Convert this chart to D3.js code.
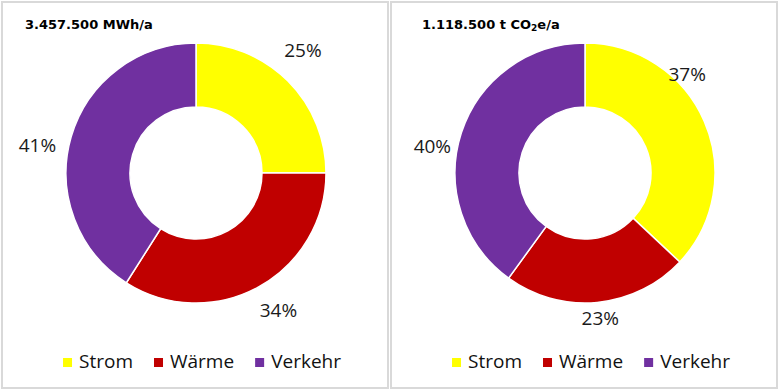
<!DOCTYPE html>
<html>
<head>
<meta charset="utf-8">
<script src="https://cdn.jsdelivr.net/npm/d3@7/dist/d3.min.js"></script>
<style>
  html, body { margin: 0; padding: 0; background: #fff; }
  svg { display: block; }
</style>
</head>
<body>
<svg id="chart" width="780" height="391"></svg>
<script>
// ---- data ----
const categories = ["Strom", "Wärme", "Verkehr"];
const energyShare = [25, 34, 41];      // % of 3.457.500 MWh/a
const emissionShare = [37, 23, 40];    // % of 1.118.500 t CO2e/a
const colors = ["#FFFF00", "#C00000", "#7030A0"];

// ---- layout ----
const panels = [
  { x: 2, titleX: 23, values: energyShare, title: [{t: "3.457.500 MWh/a"}],
    labelAdjust: [{angle: 41, r: 163}, {angle: 149, r: 160}, {angle: 280, r: 161}] },
  { x: 391, titleX: 31, values: emissionShare, title: [{t: "1.118.500 t CO"}, {t: "2", sub: true}, {t: "e/a"}],
    labelAdjust: [{angle: 46, r: 142}, {angle: 174, r: 146}, {angle: 280, r: 155}] }
];
const panelW = 386, panelH = 386, panelY = 2;
const outerR = 130, innerR = 66, labelR = 161;

const svg = d3.select("#chart");
const font = "'Open Sans', 'DejaVu Sans', sans-serif";

const pie = d3.pie().sort(null).value(d => d);
const arc = d3.arc().innerRadius(innerR).outerRadius(outerR);
const color = d3.scaleOrdinal().domain(categories).range(colors);

panels.forEach(p => {
  const g = svg.append("g");
  g.append("rect")
    .attr("x", p.x).attr("y", panelY)
    .attr("width", panelW).attr("height", panelH)
    .attr("fill", "#fff").attr("stroke", "#d9d9d9").attr("stroke-width", 2);

  // title
  const title = g.append("text")
    .attr("x", p.x + p.titleX).attr("y", 29)
    .attr("font-family", "'DejaVu Sans', sans-serif").attr("font-weight", "bold")
    .attr("font-size", 13).attr("fill", "#000");
  p.title.forEach((s, k) => {
    if (s.sub) {
      title.append("tspan").attr("font-size", 9).attr("dy", 2).text(s.t);
    } else {
      title.append("tspan").attr("dy", k === 0 ? 0 : -2).text(s.t);
    }
  });

  const cx = p.x + 194, cy = 173;
  const dg = g.append("g").attr("transform", `translate(${cx},${cy})`);
  const arcs = pie(p.values);
  dg.selectAll("path").data(arcs).join("path")
    .attr("d", arc)
    .attr("fill", (d, i) => color(categories[i]))
    .attr("stroke", "#fff").attr("stroke-width", 1.5);

  dg.selectAll("text.lbl").data(arcs).join("text")
    .attr("class", "lbl")
    .each(function(d, i) {
      const adj = p.labelAdjust[i] || {};
      const mid = adj.angle !== undefined ? adj.angle * Math.PI / 180 : (d.startAngle + d.endAngle) / 2;
      const r = adj.r || labelR;
      d3.select(this)
        .attr("x", Math.sin(mid) * r)
        .attr("y", -Math.cos(mid) * r);
    })
    .attr("text-anchor", "middle").attr("dominant-baseline", "central")
    .attr("font-family", font).attr("font-size", 19).attr("fill", "#1a1a1a")
    .text(d => d.data + "%");

  // legend
  const lg = g.append("g");
  const items = lg.selectAll("g").data(categories).join("g");
  items.append("rect").attr("width", 9).attr("height", 9)
    .attr("y", -10).attr("fill", d => color(d));
  items.append("text").attr("x", 16).attr("y", 0)
    .attr("font-family", font).attr("font-size", 19).attr("fill", "#111")
    .text(d => d);
  let xoff = 0;
  items.each(function() {
    const tw = d3.select(this).select("text").node().getComputedTextLength();
    d3.select(this).attr("transform", `translate(${xoff},0)`);
    xoff += 16 + tw + 21;
  });
  const total = xoff - 21;
  lg.attr("transform", `translate(${cx + 6 - total / 2},368)`);
});
</script>
</body>
</html>
